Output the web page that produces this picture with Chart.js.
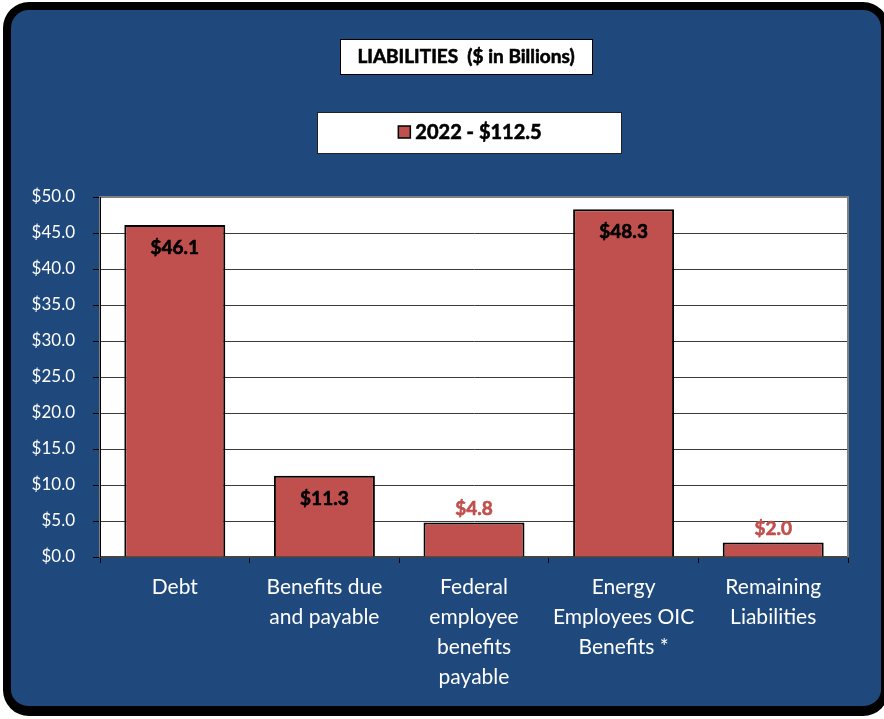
<!DOCTYPE html>
<html>
<head>
<meta charset="utf-8">
<title>Liabilities</title>
<script src="https://cdn.jsdelivr.net/npm/chart.js@4.4.1/dist/chart.umd.min.js"></script>
<style>
    html, body { margin: 0; padding: 0; background: #ffffff; }
    body { width: 884px; height: 719px; position: relative; overflow: hidden; }
    #frame {
        position: absolute;
        left: 3px; top: 2px;
        width: 870px; height: 696px;
        background: #1f497d;
        border: 8px solid #000;
        border-bottom-width: 10px;
        border-radius: 26px;
    }
    #liabChart { position: absolute; left: 0; top: 0; }
</style>
</head>
<body>
<div id="frame"></div>
<canvas id="liabChart" width="884" height="719"></canvas>
<script>
// Liabilities by type, $ in billions
const categories = [
    'Debt',
    ['Benefits due', 'and payable'],
    ['Federal', 'employee', 'benefits', 'payable'],
    ['Energy', 'Employees OIC', 'Benefits *'],
    ['Remaining', 'Liabilities']
];
const values2022 = [46.1, 11.3, 4.8, 48.3, 2.0];
const seriesName = '2022 - $112.5';
const chartTitle = 'LIABILITIES  ($ in Billions)';

const BAR_RED = '#c0504d';
const FONT = 'Lato, "Open Sans", sans-serif';

function money(v) {
    return '$' + Number(v).toFixed(1);
}

// bold text with a hairline stroke so it reads a bit heavier
function heavyText(ctx, text, x, y, color) {
    ctx.fillStyle = color;
    ctx.strokeStyle = color;
    ctx.lineWidth = 0.6;
    ctx.fillText(text, x, y);
    ctx.strokeText(text, x, y);
}

// white plot area, boxes for the title and legend, value labels
const decorations = {
    id: 'decorations',
    beforeDraw(chart) {
        const { ctx, chartArea: a } = chart;
        ctx.save();
        ctx.fillStyle = '#ffffff';
        ctx.fillRect(a.left, a.top, a.right - a.left, a.bottom - a.top);
        ctx.restore();
    },
    afterDatasetsDraw(chart) {
        const { ctx, chartArea: a } = chart;
        ctx.save();
        ctx.strokeStyle = '#808080';
        ctx.lineWidth = 2;
        ctx.beginPath();
        ctx.moveTo(a.left, a.bottom);
        ctx.lineTo(a.left, a.top);
        ctx.lineTo(a.right, a.top);
        ctx.lineTo(a.right, a.bottom);
        ctx.stroke();
        ctx.strokeStyle = '#000';
        ctx.lineWidth = 1;
        ctx.beginPath();
        ctx.moveTo(a.left + 0.5, a.top);
        ctx.lineTo(a.left + 0.5, a.bottom);
        ctx.stroke();

        // value labels: inside the tall bars, above the short ones
        const meta = chart.getDatasetMeta(0);
        ctx.font = 'bold 19px ' + FONT;
        ctx.textAlign = 'center';
        ctx.textBaseline = 'middle';
        meta.data.forEach((bar, i) => {
            const v = values2022[i];
            if (v >= 10) {
                heavyText(ctx, money(v), bar.x, bar.y + 23, '#000');
            } else {
                heavyText(ctx, money(v), bar.x, bar.y - 14, BAR_RED);
            }
        });
        ctx.restore();
    },
    afterDraw(chart) {
        const { ctx } = chart;
        ctx.save();

        // title box
        ctx.fillStyle = '#fff';
        ctx.fillRect(340, 39, 252, 35);
        ctx.strokeStyle = '#000';
        ctx.lineWidth = 1;
        ctx.strokeRect(340.5, 39.5, 252, 35);
        ctx.font = 'bold 19px ' + FONT;
        ctx.textAlign = 'center';
        ctx.textBaseline = 'middle';
        heavyText(ctx, chartTitle, 466, 57, '#000');

        // legend box
        ctx.fillStyle = '#fff';
        ctx.fillRect(317, 112, 304, 41);
        ctx.strokeStyle = '#222';
        ctx.lineWidth = 1;
        ctx.strokeRect(317.5, 112.5, 304, 41);
        ctx.font = 'bold 20px ' + FONT;
        ctx.textAlign = 'left';
        const tw = ctx.measureText(seriesName).width;
        const startX = 470 - (tw + 17) / 2;
        ctx.fillStyle = BAR_RED;
        ctx.fillRect(startX, 126, 12, 12);
        ctx.strokeStyle = '#000';
        ctx.lineWidth = 1.5;
        ctx.strokeRect(startX, 126, 12, 12);
        heavyText(ctx, seriesName, startX + 17, 133, '#000');

        ctx.restore();
    }
};

const chart = new Chart(document.getElementById('liabChart'), {
    type: 'bar',
    data: {
        labels: categories,
        datasets: [{
            label: seriesName,
            data: values2022,
            backgroundColor: BAR_RED,
            borderColor: '#000',
            borderWidth: 2,
            categoryPercentage: 0.675,
            barPercentage: 1
        }]
    },
    options: {
        responsive: false,
        animation: false,
        devicePixelRatio: 1,
        layout: {
            padding: { left: 0, top: 197, right: 36, bottom: 0 }
        },
        plugins: {
            legend: { display: false },
            title: { display: false },
            tooltip: { enabled: false }
        },
        scales: {
            y: {
                min: 0,
                max: 50,
                ticks: {
                    stepSize: 5,
                    color: '#ffffff',
                    padding: 18,
                    font: { family: FONT, size: 17 },
                    callback: v => money(v)
                },
                grid: {
                    color: '#3a3a3a',
                    lineWidth: 1,
                    tickLength: 7,
                    tickColor: '#000'
                },
                border: { display: true, color: '#000', width: 1 },
                afterFit(scale) { scale.width = 100; }
            },
            x: {
                ticks: {
                    color: '#ffffff',
                    padding: 9,
                    maxRotation: 0,
                    autoSkip: false,
                    font: { family: FONT, size: 21, lineHeight: 1.43 }
                },
                grid: {
                    offset: true,
                    drawOnChartArea: false,
                    drawTicks: true,
                    tickLength: 6,
                    tickColor: '#000'
                },
                border: { display: true, color: '#444', width: 2 },
                afterFit(scale) { scale.height = 162; }
            }
        }
    },
    plugins: [decorations]
});
</script>
</body>
</html>
